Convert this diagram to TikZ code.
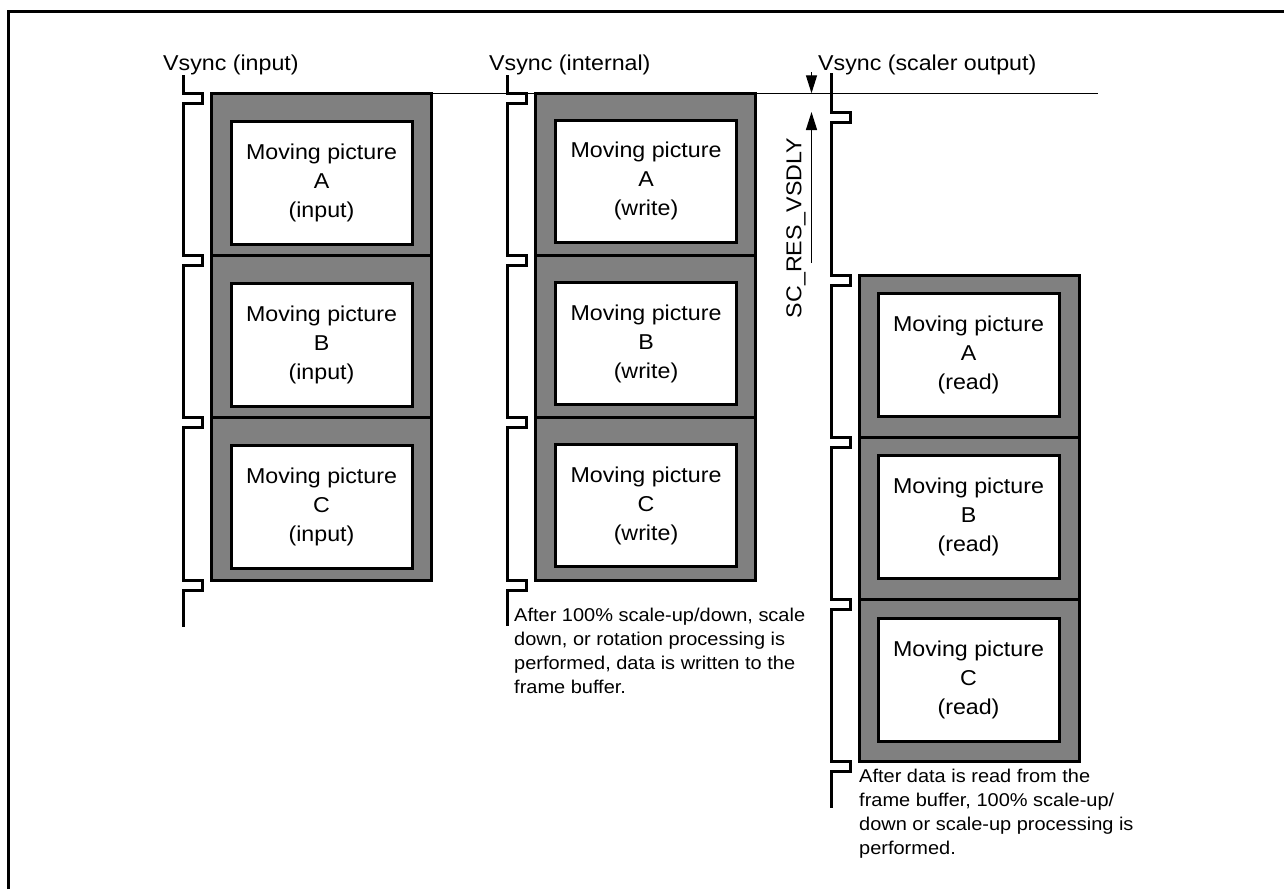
\documentclass[tikz,border=0pt]{standalone}
\usepackage{fontspec}
\setmainfont{Liberation Sans}[FakeStretch=1.08]
\usetikzlibrary{arrows.meta}
\tikzset{
  frm/.style={draw=black, line width=3pt, fill=black!50, minimum width=220pt, minimum height=162.3pt, inner sep=0pt},
  pic/.style={draw=black, line width=3pt, fill=white, minimum width=181pt, inner sep=0pt, align=center,
     font=\fontsize{21.5pt}{29pt}\selectfont},
  vs/.style={line width=3pt, line join=miter},
  lbl/.style={inner sep=0pt, font=\fontsize{21.5pt}{29pt}\selectfont},
  note/.style={inner sep=0pt, align=left, font=\fontsize{18.5pt}{24pt}\selectfont},
  thin/.style={line width=1.3pt},
  dimarrow/.style={line width=1.3pt, -{Triangle[length=18pt,width=11pt]}}
}
\begin{document}
\begin{tikzpicture}[x=1pt,y=-1pt]
\useasboundingbox (0,0) rectangle (1284,889);
% outer border (cropped)
\draw[line width=3pt] (8.5,889) -- (8.5,11.5) -- (1284,11.5);
% reference line
\draw[thin] (211,93.3) -- (1098,93.3);

% column 1 frames
\foreach \i/\l [count=\k from 0] in {A/a,B/b,C/c}{
  \node[frm] (f1\l) at (321,{93.3+162.3*\k+81.15}) {};
  \node[pic, minimum height=123pt] (p1\l) at (321.5,{93.3+162.3*\k+28+61.5}) {Moving picture\\\i\\(input)};
}
% column 2 frames
\foreach \i/\l [count=\k from 0] in {A/a,B/b,C/c}{
  \node[frm] (f2\l) at (645.5,{93.3+162.3*\k+81.15}) {};
  \node[pic, minimum height=122pt] (p2\l) at (646,{93.3+162.3*\k+27+61}) {Moving picture\\\i\\(write)};
}
% column 3 frames
\foreach \i/\l [count=\k from 0] in {A/a,B/b,C/c}{
  \node[frm] (f3\l) at (969.5,{275+162.3*\k+81.15}) {};
  \node[pic, minimum height=123pt] (p3\l) at (968.5,{275+162.3*\k+18.5+61.5}) {Moving picture\\\i\\(read)};
}

% vsync waveforms
\draw[vs] (183.5,75) -- (183.5,93.3) -- ++(19,0) -- ++(0,10) -- (183.5,103.3)
  -- (183.5,255.6) -- ++(19,0) -- ++(0,10) -- (183.5,265.6)
  -- (183.5,417.9) -- ++(19,0) -- ++(0,10) -- (183.5,427.9)
  -- (183.5,580.2) -- ++(19,0) -- ++(0,10) -- (183.5,590.2)
  -- (183.5,627);
\draw[vs] (507,75) -- (507,93.3) -- ++(19,0) -- ++(0,10) -- (507,103.3)
  -- (507,255.6) -- ++(19,0) -- ++(0,10) -- (507,265.6)
  -- (507,417.9) -- ++(19,0) -- ++(0,10) -- (507,427.9)
  -- (507,580.2) -- ++(19,0) -- ++(0,10) -- (507,590.2)
  -- (507,626);
\draw[vs] (831,73) -- (831,112) -- ++(19,0) -- ++(0,10) -- (831,122)
  -- (831,275) -- ++(19,0) -- ++(0,10) -- (831,285)
  -- (831,437.3) -- ++(19,0) -- ++(0,10) -- (831,447.3)
  -- (831,599.6) -- ++(19,0) -- ++(0,10) -- (831,609.6)
  -- (831,761.9) -- ++(19,0) -- ++(0,10) -- (831,771.9)
  -- (831,808);

% titles
\node[lbl, anchor=base west] (t1) at (163,70) {Vsync (input)};
\node[lbl, anchor=base west] (t2) at (489,70) {Vsync (internal)};
\node[lbl, anchor=base west] (t3) at (818,70) {Vsync (scaler output)};

% delay dimension
\coordinate (d0) at (811.5,72);
\coordinate (d1) at (811.5,93.3);
\coordinate (d2) at (811.5,112);
\coordinate (d3) at (811.5,263);
\draw[dimarrow] (d0) -- (d1);
\draw[dimarrow] (d3) -- (d2);
\node[lbl, rotate=90] (dl) at (796,228) {SC\_RES\_VSDLY};

% notes
\node[note, anchor=north west] (n2) at (514,608) {After 100\% scale-up/down, scale\\down, or rotation processing is\\performed, data is written to the\\frame buffer.};
\node[note, anchor=north west] (n3) at (859,769) {After data is read from the\\frame buffer, 100\% scale-up/\\down or scale-up processing is\\performed.};
\end{tikzpicture}
\end{document}
